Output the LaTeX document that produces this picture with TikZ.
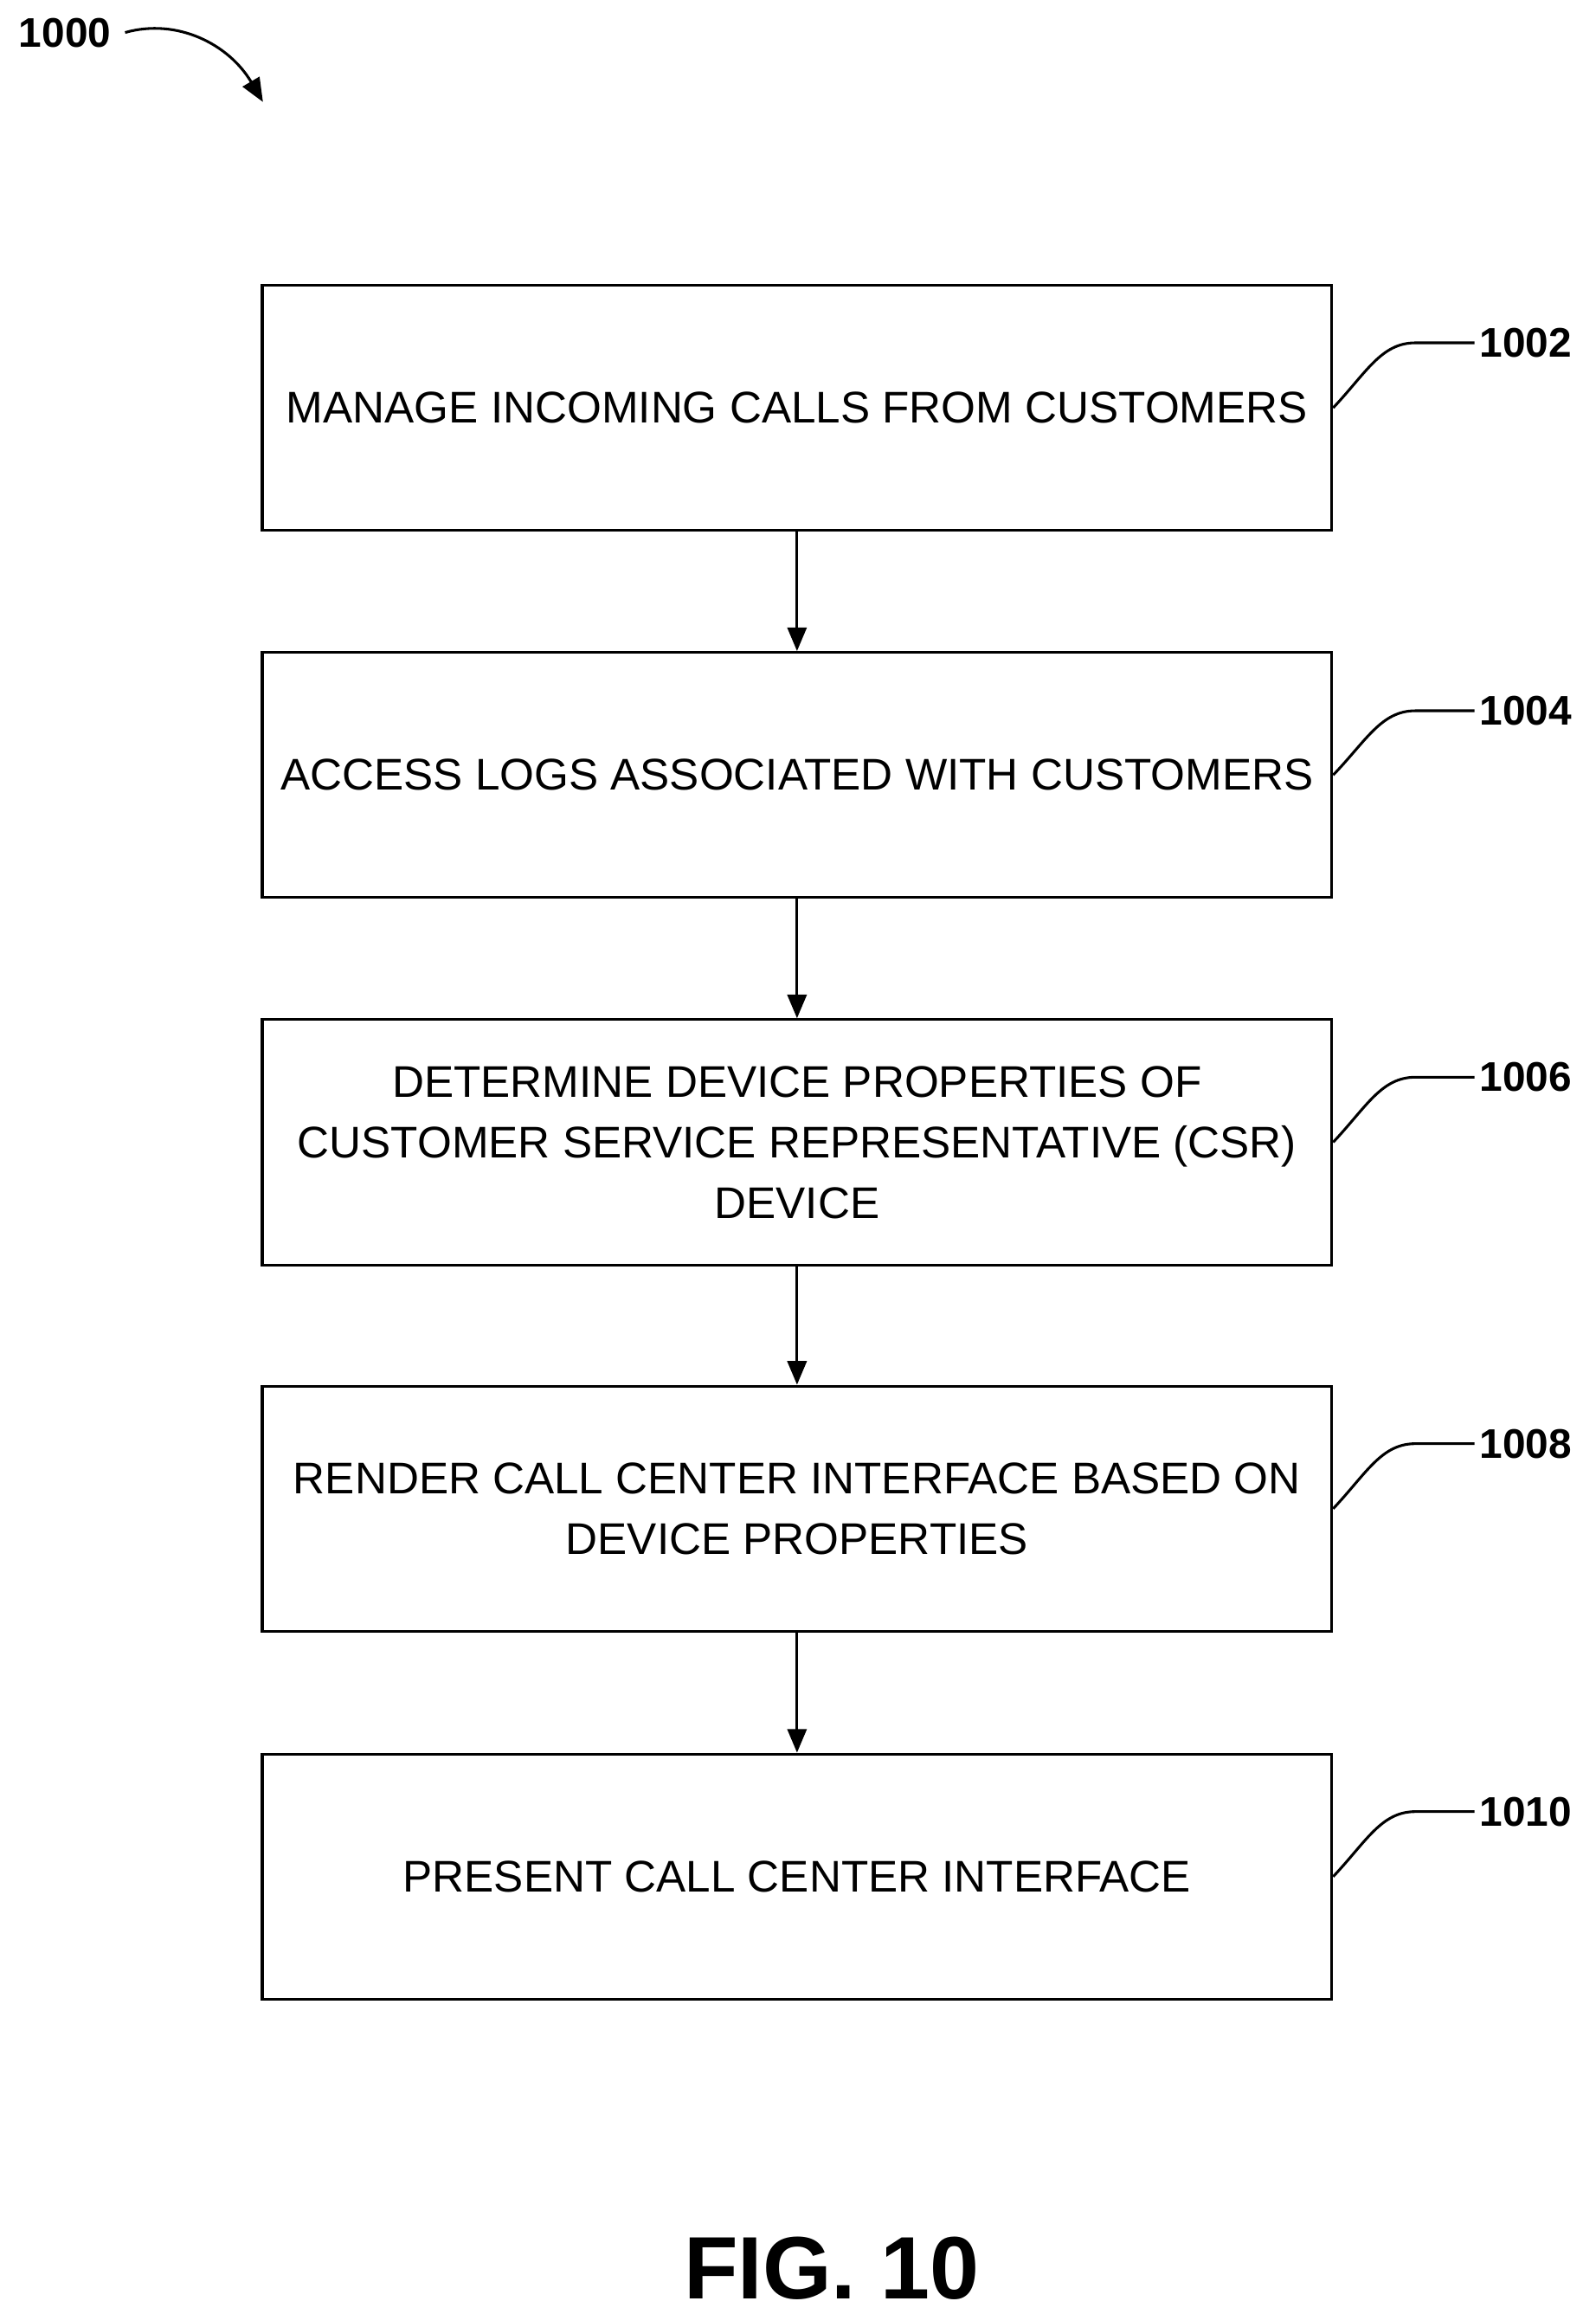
\documentclass[tikz,border=0pt]{standalone}
\usepackage{fontspec}
\setmainfont{Liberation Sans}
\usetikzlibrary{arrows.meta}
\begin{document}
\begin{tikzpicture}[x=1pt,y=-1pt,
  box/.style={draw,line width=1.8pt,minimum width=724pt,minimum height=166pt,align=center,font=\fontsize{30}{41}\selectfont,inner sep=0pt},
  lab/.style={font=\bfseries\fontsize{28}{30}\selectfont,anchor=west},
  arr/.style={line width=1.8pt,-{Triangle[length=16pt,width=13pt]}},
  lead/.style={line width=1.8pt}]
\useasboundingbox (0,0) rectangle (1080,1566);
\node[box] (b1) at (539.5,276) {MANAGE INCOMING CALLS FROM CUSTOMERS};
\node[box] (b2) at (539.5,524.5) {ACCESS LOGS ASSOCIATED WITH CUSTOMERS};
\node[box] (b3) at (539.5,773) {DETERMINE DEVICE PROPERTIES OF\\CUSTOMER SERVICE REPRESENTATIVE (CSR)\\DEVICE};
\node[box] (b4) at (539.5,1021) {RENDER CALL CENTER INTERFACE BASED ON\\DEVICE PROPERTIES};
\node[box] (b5) at (539.5,1270) {PRESENT CALL CENTER INTERFACE};
\draw[arr] (b1) -- (b2);
\draw[arr] (b2) -- (b3);
\draw[arr] (b3) -- (b4);
\draw[arr] (b4) -- (b5);
\foreach \b/\t/\y in {b1/1002/232,b2/1004/481,b3/1006/729,b4/1008/977,b5/1010/1226}{
  \node[lab] (l\t) at (998,\y) {\t};
  \draw[lead] (\b.east) .. controls (925,\y+20) and (935,\y) .. (958,\y) -- (l\t.west);
}
\node[font=\bfseries\fontsize{28}{30}\selectfont] (l1000) at (44,22) {1000};
\coordinate (t1000) at (178,69);
\draw[line width=1.8pt,-{Triangle[length=16pt,width=13pt]}] ([xshift=6pt]l1000.east) .. controls (120,12) and (155,30) .. (t1000);
\node[font=\bfseries\fontsize{60}{64}\selectfont] (fig) at (563,1535) {FIG. 10};
\end{tikzpicture}
\end{document}
